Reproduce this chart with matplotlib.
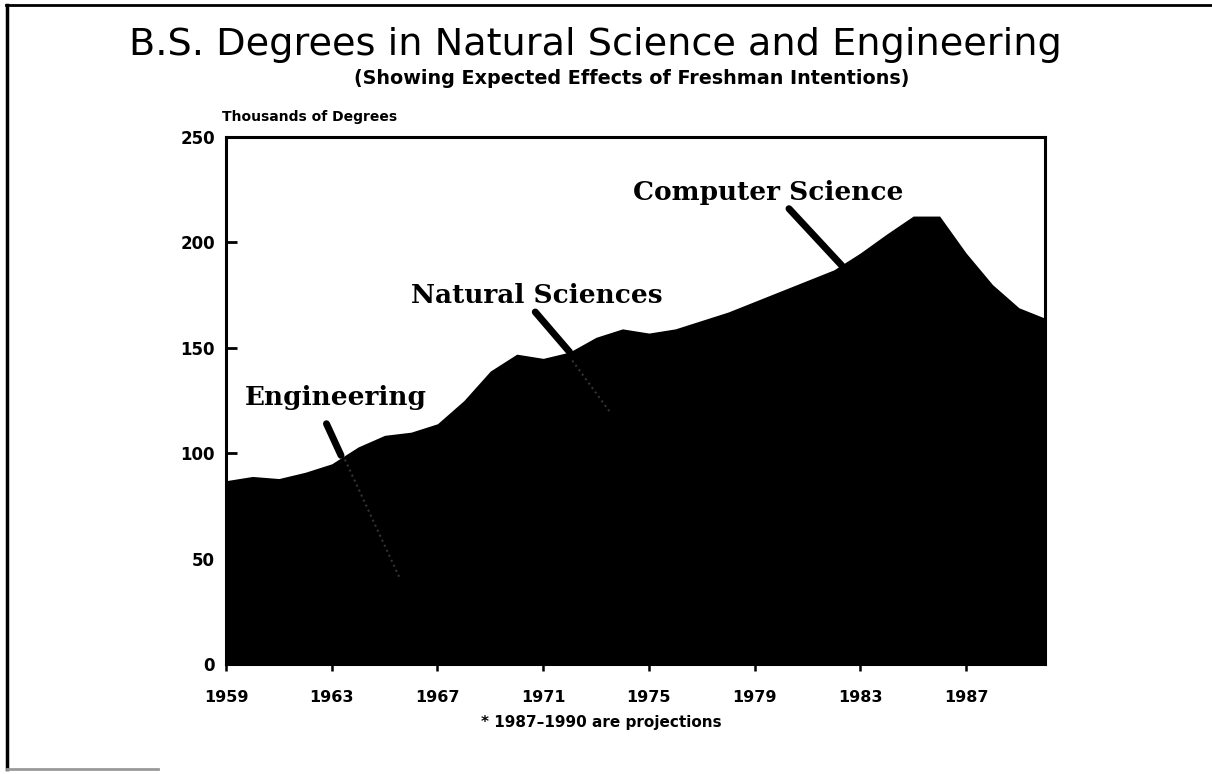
import numpy as np
import matplotlib
matplotlib.use('Agg')
import matplotlib.pyplot as plt
from matplotlib.lines import Line2D

years = list(range(1959, 1991))
degrees = [87, 89, 88, 91, 95, 103, 108.5, 110, 114, 125, 139, 147,
           145, 148, 155, 159, 157, 159, 163, 167, 172, 177, 182, 187,
           195, 204, 212.5, 212.5, 195, 180, 169, 164]

tick_years = [1959, 1963, 1967, 1971, 1975, 1979, 1983, 1987]
y_ticks = [0, 50, 100, 150, 200, 250]

# label text, (text x, text y), leader line (x0, y0, x1, y1) in data units
labels = ['Engineering', 'Natural Sciences', 'Computer Science']
label_pos = [(1959.7, 126.5), (1966.0, 175), (1974.4, 223.5)]
leaders = [(1962.8, 114, 1963.35, 99),
           (1970.7, 167, 1972.0, 148),
           (1980.3, 216, 1982.3, 189)]
# faint continuation of the leaders inside the black area
inner = [(1963.5, 97, 1965.6, 40),
         (1972.1, 144, 1973.5, 120)]

fig = plt.figure(figsize=(12.12, 7.74), dpi=100)
ax = fig.add_axes([0.1865, 0.142, 0.676, 0.681])

ax.fill_between(years, degrees, 0, color='black', linewidth=0)
ax.set_xlim(1959, 1990)
ax.set_ylim(0, 250)

ax.set_xticks(tick_years)
ax.set_xticklabels([str(y) for y in tick_years], fontsize=11.5, fontweight='bold')
ax.set_yticks(y_ticks)
ax.set_yticklabels([str(v) for v in y_ticks], fontsize=12, fontweight='bold')
ax.tick_params(axis='x', direction='out', length=5, width=1.8, pad=14)
ax.tick_params(axis='y', direction='in', length=8, width=2, pad=8)
for s in ax.spines.values():
    s.set_linewidth(2.2)

for txt, (tx, ty), (x0, y0, x1, y1) in zip(labels, label_pos, leaders):
    ax.text(tx, ty, txt, family='DejaVu Serif', fontsize=19, fontweight='bold',
            va='center', ha='left')
    ax.plot([x0, x1], [y0, y1], color='black', linewidth=5,
            solid_capstyle='round')
for x0, y0, x1, y1 in inner:
    ax.plot([x0, x1], [y0, y1], color='#333333', linewidth=1.5, linestyle=':')

fig.text(0.491, 0.942, 'B.S. Degrees in Natural Science and Engineering',
         ha='center', va='center', fontsize=27.5)
fig.text(0.521, 0.899, '(Showing Expected Effects of Freshman Intentions)',
         ha='center', va='center', fontsize=13.8, fontweight='bold')
fig.text(0.183, 0.849, 'Thousands of Degrees', ha='left', va='center',
         fontsize=10, fontweight='bold')
fig.text(0.496, 0.067, '* 1987\u20131990 are projections', ha='center',
         va='center', fontsize=11, fontweight='bold')

# scanned page frame: top and left edges
fig.add_artist(Line2D([0.005, 1.0], [0.993, 0.993], color='black', linewidth=2,
                      transform=fig.transFigure))
fig.add_artist(Line2D([0.006, 0.006], [0.006, 0.993], color='black', linewidth=2.5,
                      transform=fig.transFigure))
fig.add_artist(Line2D([0.006, 0.13], [0.007, 0.007], color='#999999', linewidth=2,
                      transform=fig.transFigure))

fig.savefig('out.png', dpi=100, facecolor='white')
